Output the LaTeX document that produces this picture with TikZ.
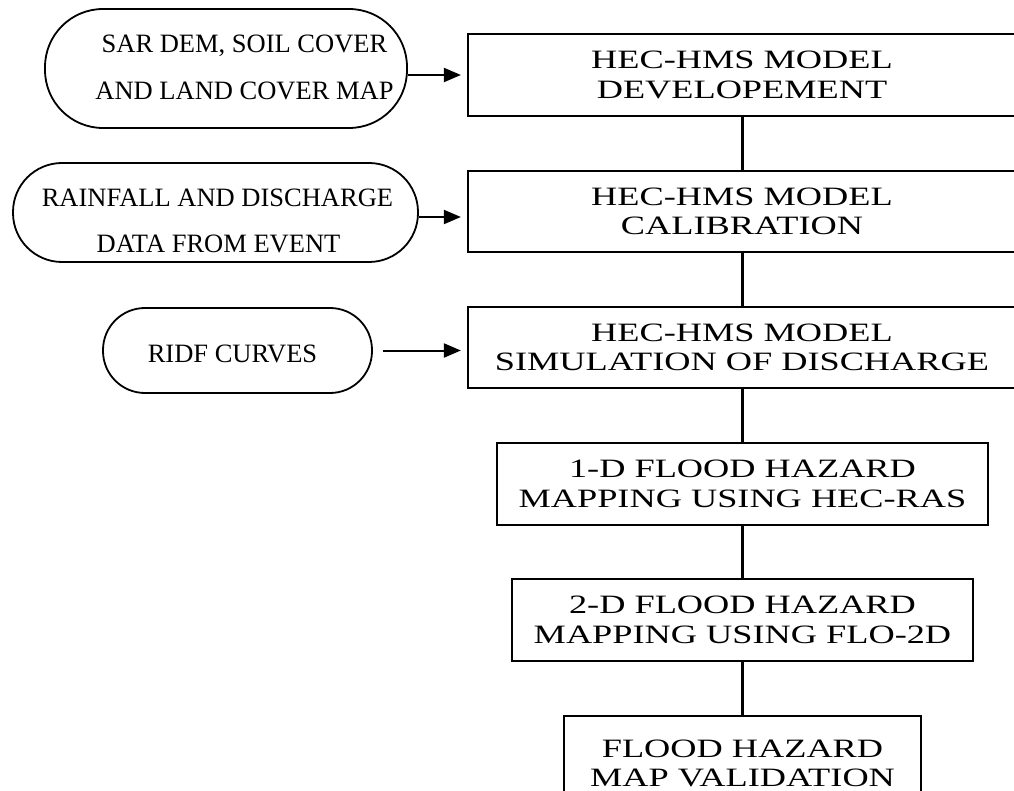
\documentclass[tikz,border=0pt]{standalone}
\usepackage{fontspec}
\setmainfont{Liberation Serif}
\newfontfamily\wideserif{Liberation Serif}[FakeStretch=1.37]
\usetikzlibrary{arrows.meta,calc}
\begin{document}
\begin{tikzpicture}[x=1pt,y=-1pt,
  procbox/.style={draw,line width=2.2pt,rectangle,inner sep=0pt,align=center,
     font=\wideserif\fontsize{26.5}{29.5}\selectfont},
  inbox/.style={draw,line width=1.8pt,rectangle,inner sep=0pt},
  lbl/.style={anchor=base,inner sep=0pt,font=\fontsize{26.5}{30}\selectfont},
  link/.style={line width=3pt},
  arr/.style={line width=2pt,-{Triangle[length=17pt,width=14pt]},shorten >=6pt}]
\useasboundingbox (0,0) rectangle (1014,791);
\clip (0,0) rectangle (1014,791);
% process boxes
\node[procbox,minimum width=548,minimum height=82] (b1) at (742,75) {HEC-HMS MODEL\\DEVELOPEMENT};
\node[procbox,minimum width=548,minimum height=81] (b2) at (742,211.5) {HEC-HMS MODEL\\CALIBRATION};
\node[procbox,minimum width=548,minimum height=81] (b3) at (742,347.5) {HEC-HMS MODEL\\SIMULATION OF DISCHARGE};
\node[procbox,minimum width=491,minimum height=82] (b4) at (742.5,484) {1-D FLOOD HAZARD\\MAPPING USING HEC-RAS};
\node[procbox,minimum width=461,minimum height=82] (b5) at (742.5,620) {2-D FLOOD HAZARD\\MAPPING USING FLO-2D};
\node[procbox,minimum width=357,minimum height=95] (b6) at (742.5,763.5) {FLOOD HAZARD\\MAP VALIDATION};
% input shapes
\node[inbox,rounded corners=58pt,minimum width=362,minimum height=119] (e1) at (226,68.5) {};
\node[inbox,rounded corners=49pt,minimum width=405,minimum height=99] (e2) at (215.5,212.5) {};
\node[inbox,rounded corners=42pt,minimum width=269,minimum height=85] (e3) at (237.5,350.5) {};
\node[lbl] (t1a) at (244.5,53) {SAR DEM, SOIL COVER};
\node[lbl] (t1b) at (244.5,100) {AND LAND COVER MAP};
\node[lbl] (t2a) at (217.5,207) {RAINFALL AND DISCHARGE};
\node[lbl] (t2b) at (218.5,253) {DATA FROM EVENT};
\node[lbl] (t3a) at (232.5,362) {RIDF CURVES};
% connectors
\coordinate (a2) at ([yshift=-4.5pt]e2.east);
\draw[link] (b1.south -| b4.north) -- (b2.north -| b4.north);
\draw[link] (b2.south -| b4.north) -- (b3.north -| b4.north);
\draw[link] (b3.south -| b4.north) -- (b4.north);
\draw[link] (b4.south) -- (b5.north);
\draw[link] (b5.south) -- (b6.north);
\draw[arr] (e1.east |- b1.west) -- (b1.west);
\draw[arr] (a2) -- (a2 -| b2.west);
\draw[arr,shorten <=10pt] (e3.east) -- (e3.east -| b3.west);
\end{tikzpicture}
\end{document}
